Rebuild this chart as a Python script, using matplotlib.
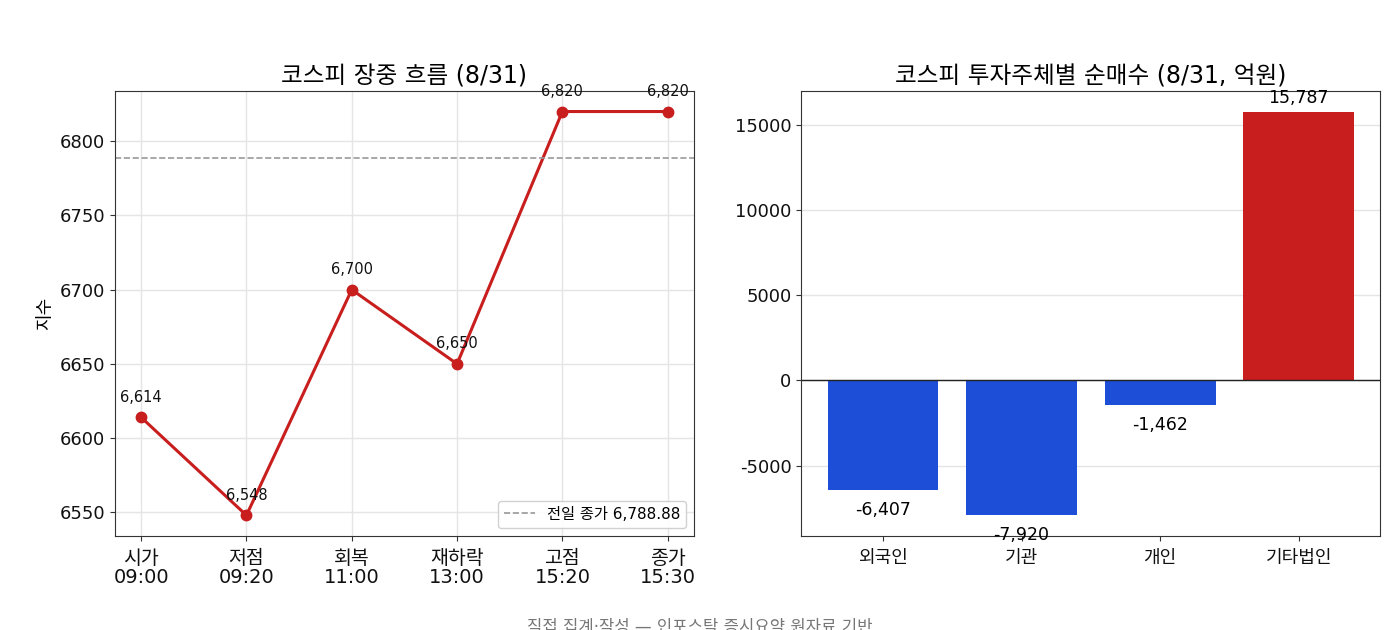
import matplotlib
matplotlib.use("Agg")
import matplotlib.pyplot as plt

plt.rcParams['font.family'] = ['DejaVu Sans', 'Noto Sans CJK KR']
plt.rcParams['axes.unicode_minus'] = False

# 장중 흐름
times = ['시가\n09:00', '저점\n09:20', '회복\n11:00', '재하락\n13:00', '고점\n15:20', '종가\n15:30']
index_vals = [6614, 6548, 6700, 6650, 6820, 6820]
prev_close = 6788.88

# 투자주체별 순매수 (억원)
investors = ['외국인', '기관', '개인', '기타법인']
net_buy = [-6407, -7920, -1462, 15787]

RED = '#c81e1e'
BLUE = '#1d4ed8'

fig, (ax1, ax2) = plt.subplots(1, 2, figsize=(14, 6.3), dpi=100)
fig.subplots_adjust(left=0.082, right=0.986, top=0.855, bottom=0.15, wspace=0.185)

for ax in (ax1, ax2):
    for s in ax.spines.values():
        s.set_color('#333333')
    ax.tick_params(colors='#333333', labelcolor='#111111', labelsize=13)
    ax.grid(True, color='#e5e5e5', linewidth=1)
    ax.set_axisbelow(True)

# 왼쪽: 라인
x = list(range(len(times)))
ax1.plot(x, index_vals, color=RED, linewidth=2.2, marker='o', markersize=7.5)
ax1.axhline(prev_close, color='#999999', linestyle='--', linewidth=1.2,
            label=f'전일 종가 {prev_close:,.2f}')
for xi, v in zip(x, index_vals):
    ax1.annotate(f'{v:,}', (xi, v), xytext=(0, 9), textcoords='offset points',
                 ha='center', va='bottom', fontsize=10.5, color='#111111')
ax1.set_xticks(x)
ax1.set_xticklabels(times, fontsize=14, linespacing=1.0)
ax1.tick_params(axis='x', pad=6)
ax1.set_ylabel('지수', fontsize=13)
ax1.set_title('코스피 장중 흐름 (8/31)', fontsize=17)
ax1.legend(loc='lower right', fontsize=11, framealpha=0.9)

# 오른쪽: 막대
colors = [RED if v > 0 else BLUE for v in net_buy]
ax2.bar(investors, net_buy, color=colors, width=0.8)
ax2.axhline(0, color='#222222', linewidth=1)
ax2.grid(False, axis='x')
for i, v in enumerate(net_buy):
    if v >= 0:
        ax2.annotate(f'{v:,}', (i, v), xytext=(0, 3), textcoords='offset points',
                     ha='center', va='bottom', fontsize=12.5)
    else:
        ax2.annotate(f'{v:,}', (i, v), xytext=(0, -8), textcoords='offset points',
                     ha='center', va='top', fontsize=12.5)
ax2.tick_params(axis='x', labelsize=13, pad=6)
ax2.set_title('코스피 투자주체별 순매수 (8/31, 억원)', fontsize=17)

fig.text(0.5, 0.004, '직접 집계·작성 — 인포스탁 증시요약 원자료 기반',
         ha='center', va='center', fontsize=12, color='#777777')

fig.savefig('out.png', dpi=100)
